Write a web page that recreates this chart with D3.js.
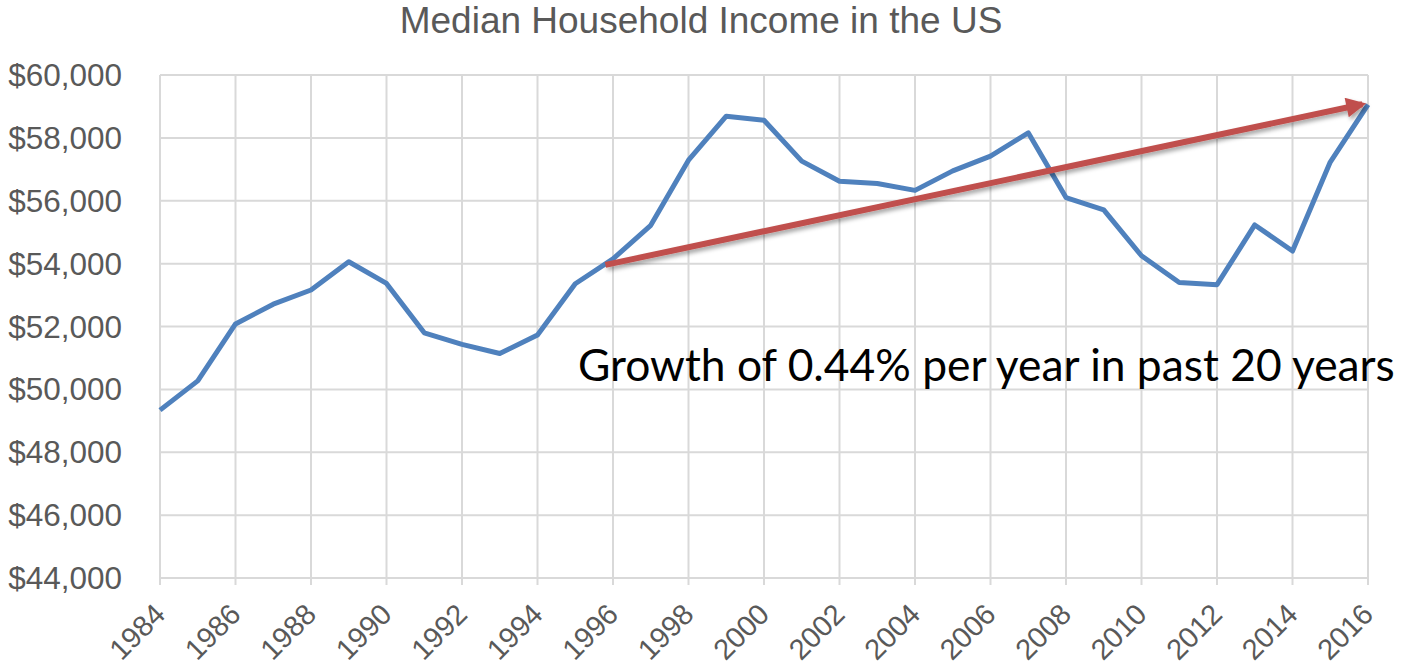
<!DOCTYPE html>
<html>
<head>
<meta charset="utf-8">
<script src="https://cdn.jsdelivr.net/npm/d3@7"></script>
<style>
  html, body { margin: 0; padding: 0; background: #fff; }
</style>
</head>
<body>
<svg id="chart" width="1402" height="667"></svg>
<script>
const years = [1984, 1985, 1986, 1987, 1988, 1989, 1990, 1991, 1992, 1993, 1994, 1995,
  1996, 1997, 1998, 1999, 2000, 2001, 2002, 2003, 2004, 2005, 2006, 2007, 2008, 2009,
  2010, 2011, 2012, 2013, 2014, 2015, 2016];
const income = [49340, 50270, 52080, 52710, 53160, 54060, 53370, 51800, 51430, 51140, 51730, 53360,
  54150, 55220, 57290, 58690, 58560, 57260, 56620, 56550, 56330, 56950, 57420, 58160, 56100, 55710,
  54250, 53400, 53330, 55230, 54400, 57230, 59060];
const yTicks = [44000, 46000, 48000, 50000, 52000, 54000, 56000, 58000, 60000];
const xTicks = [1984, 1986, 1988, 1990, 1992, 1994, 1996, 1998, 2000, 2002, 2004, 2006,
  2008, 2010, 2012, 2014, 2016];
const trendYears = [1995.8, 2015.85];
const trendValues = [53960, 59070];
const title = 'Median Household Income in the US';
const note = 'Growth of 0.44% per year in past 20 years';

const svg = d3.select('#chart');
const margin = { top: 75, right: 34, bottom: 89, left: 160 };
const width = 1402, height = 667;
const innerWidth = width - margin.left - margin.right;
const innerHeight = height - margin.top - margin.bottom;

const x = d3.scaleLinear().domain([1984, 2016]).range([0, innerWidth]);
const y = d3.scaleLinear().domain([44000, 60000]).range([innerHeight, 0]);

const defs = svg.append('defs');
const shadow = defs.append('filter').attr('id', 'shadow')
  .attr('x', '-10%').attr('y', '-50%').attr('width', '120%').attr('height', '200%');
shadow.append('feDropShadow').attr('dx', 2).attr('dy', 3).attr('stdDeviation', 2)
  .attr('flood-color', '#000').attr('flood-opacity', 0.35);
defs.append('marker').attr('id', 'head')
  .attr('markerUnits', 'userSpaceOnUse')
  .attr('viewBox', '0 0 10 10').attr('refX', 8).attr('refY', 5)
  .attr('markerWidth', 24).attr('markerHeight', 20)
  .attr('orient', 'auto')
  .append('path').attr('d', 'M0,0 L10,5 L0,10 Z').attr('fill', '#c0504d');

svg.append('text')
  .attr('x', 701).attr('y', 33)
  .attr('text-anchor', 'middle')
  .attr('font-family', '"Liberation Sans", Arial, sans-serif')
  .attr('font-size', 37)
  .attr('fill', '#595959')
  .text(title);

const g = svg.append('g').attr('transform', `translate(${margin.left},${margin.top})`);

// grid
g.append('g').selectAll('line').data(yTicks).join('line')
  .attr('x1', 0).attr('x2', innerWidth)
  .attr('y1', d => y(d)).attr('y2', d => y(d))
  .attr('stroke', '#d9d9d9').attr('stroke-width', 2);
g.append('g').selectAll('line').data(xTicks).join('line')
  .attr('x1', d => x(d)).attr('x2', d => x(d))
  .attr('y1', 0).attr('y2', innerHeight + 7)
  .attr('stroke', '#d9d9d9').attr('stroke-width', 2);

// y labels
g.append('g').selectAll('text').data(yTicks).join('text')
  .attr('x', -38).attr('y', d => y(d))
  .attr('dy', '0.35em')
  .attr('text-anchor', 'end')
  .attr('font-family', '"Liberation Sans", Arial, sans-serif')
  .attr('font-size', 31.5)
  .attr('fill', '#595959')
  .text(d => '$' + d3.format(',')(d));

// x labels
g.append('g').selectAll('text').data(xTicks).join('text')
  .attr('transform', d => `translate(${x(d) + 7},${innerHeight + 38}) rotate(-45)`)
  .attr('text-anchor', 'end')
  .attr('font-family', '"Liberation Sans", Arial, sans-serif')
  .attr('font-size', 29)
  .attr('fill', '#595959')
  .text(d => d);

// income line
const line = d3.line().x((d, i) => x(years[i])).y(d => y(d));
g.append('path')
  .datum(income)
  .attr('fill', 'none')
  .attr('stroke', '#4f81bd')
  .attr('stroke-width', 5)
  .attr('stroke-linejoin', 'round')
  .attr('d', line);

// trend arrow
g.append('path')
  .datum(trendValues)
  .attr('fill', 'none')
  .attr('stroke', '#c0504d')
  .attr('stroke-width', 6)
  .attr('filter', 'url(#shadow)')
  .attr('marker-end', 'url(#head)')
  .attr('d', d3.line().x((d, i) => x(trendYears[i])).y(d => y(d)));

// annotation
const t = svg.append('text')
  .attr('x', 578).attr('y', 381)
  .attr('font-family', 'Lato, "Open Sans", sans-serif')
  .attr('font-size', 44)
  .attr('fill', '#000')
  .text(note);
const w = t.node().getComputedTextLength();
t.attr('font-size', 44 * 817 / w);
</script>
</body>
</html>
